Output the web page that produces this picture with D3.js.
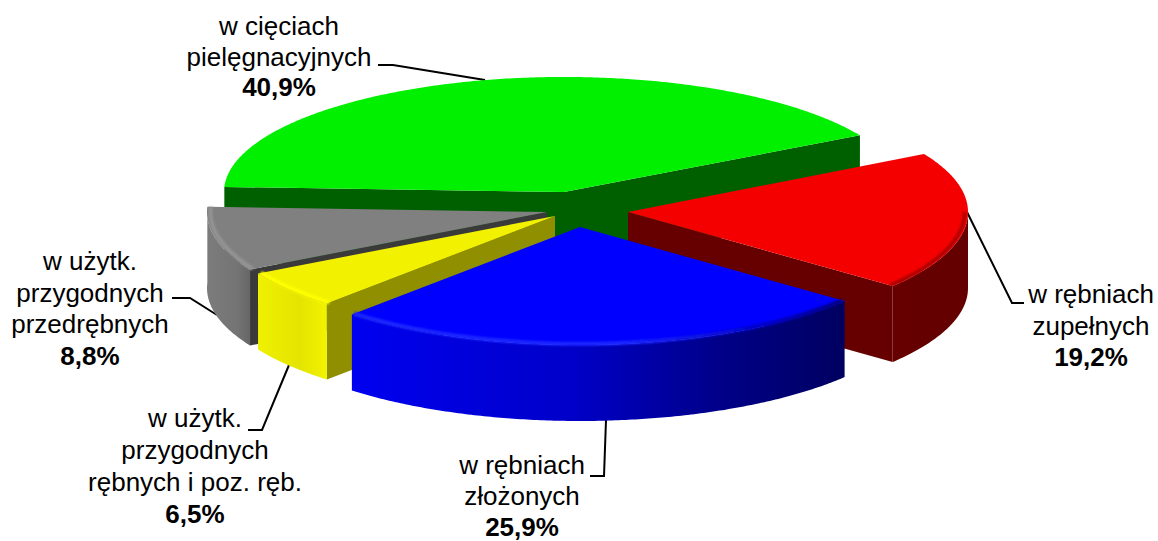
<!DOCTYPE html>
<html lang="pl">
<head>
<meta charset="utf-8">
<script src="https://cdnjs.cloudflare.com/ajax/libs/d3/7.8.5/d3.min.js"></script>
<style>
html,body{margin:0;padding:0;background:#fff;}
svg{display:block;}
text{font-family:"Liberation Sans",Arial,sans-serif;font-size:26px;fill:#000;text-anchor:middle;}
text .v{font-weight:bold;}
</style>
</head>
<body>
<svg id="c" width="1158" height="541"></svg>
<script>
// Data, clockwise from the red slice
const categories = ["w rębniach zupełnych","w rębniach złożonych","w użytk. przygodnych rębnych i poz. ręb.","w użytk. przygodnych przedrębnych","w cięciach pielęgnacyjnych"];
// Sweep shares as drawn in the picture
const sweepShares = [19.0, 25.9, 5.2, 8.8, 41.1];
const valueLabels = ["19,2%","25,9%","6,5%","8,8%","40,9%"];
const labelLines = [
  ["w rębniach","zupełnych"],
  ["w rębniach","złożonych"],
  ["w użytk.","przygodnych","rębnych i poz. ręb."],
  ["w użytk.","przygodnych","przedrębnych"],
  ["w cięciach","pielęgnacyjnych"]
];

// Layout and style (not data)
const W=1158,H=541, depth=76, startDeg=60.5;
const apex=[[628,212],[580,227],[555,216],[547,212],[564,192]];
const squash=[1,1,1,1,0.975];
const topCol=["#f40000","#0000ff","#f2f200","#808080","#00f000"];
const sideCol=["#660000","#000066","#8f8f00","#3a3a3a","#006000"];
const outerStops=[
  [["0","#660000"],["1","#640000"]],
  [["0","#0000f0"],["0.45","#0000c8"],["0.75","#000088"],["1","#000060"]],
  [["0","#f0f000"],["0.6","#e4e400"],["1","#f2f200"]],
  [["0","#7c7c7c"],["0.7","#747474"],["1","#666666"]],
  [["0","#006000"],["1","#006000"]]
];
const rimStops=[
  [["0","#a00000"],["1","#a00000"]],
  [["0","#1c28ff"],["0.55","#1c28ff"],["0.85","#0000c0"],["1","#000080"]],
  [["0","#ffff00"],["1","#ffff00"]],
  [["0","#949494"],["1","#949494"]],
  [["0","#00f000"],["1","#00f000"]]
];
const textX=[1091,522,195,90,279];
const textY=[303,474,427,270,35];
const lineH=[31.5,30.75,32,31.7,30.7];
const leaders=[
  [[967,212],[1012,303],[1024,303]],
  [[606,420],[604,476],[590,476]],
  [[289,365],[262,430],[248,430]],
  [[217,315],[190,298],[172,298]],
  [[378,65],[393,65],[485,80]]
];

const svg=d3.select("#c");
const defs=svg.append("defs");
const xS=d3.scaleLinear().domain([-1,1]).range([-340,340]);
const yS=d3.scaleLinear().domain([-1,1]).range([-118,118]);
const pie=d3.pie().sort(null).startAngle(startDeg*Math.PI/180).endAngle((startDeg+360)*Math.PI/180);
const arcs=pie(sweepShares);
const line=d3.line();
const pt=(i,a,dy=0,r=1)=>[apex[i][0]+xS(r*Math.sin(a)),apex[i][1]+squash[i]*yS(-r*Math.cos(a))+dy];
const sampler=(a0,a1)=>{const n=Math.max(2,Math.ceil(Math.abs(a1-a0)/0.01));return d3.range(n+1).map(k=>a0+(a1-a0)*k/n);};

defs.append("filter").attr("id","blur").attr("x","-5%").attr("y","-10%").attr("width","110%").attr("height","120%")
  .append("feGaussianBlur").attr("stdDeviation",1.1);
function grad(id,stops){
  const g=defs.append("linearGradient").attr("id",id);
  stops.forEach(s=>g.append("stop").attr("offset",s[0]).attr("stop-color",s[1]));
}
arcs.forEach((d,i)=>{grad("outer"+i,outerStops[i]);grad("rim"+i,rimStops[i]);});

// leader lines
svg.append("g").selectAll("path").data(leaders).join("path")
  .attr("d",d=>line(d)).attr("fill","none").attr("stroke","#000").attr("stroke-width",2);

// back-to-front drawing order
const order=[4,0,3,2,1];
const g=svg.append("g");
order.forEach(i=>{
  const d=arcs[i];
  const s=g.append("g").attr("data-cat",categories[i]);
  const wall=a=>{
    const p=pt(i,a),q=pt(i,a,depth),c=apex[i];
    return line([c,p,q,[c[0],c[1]+depth]])+"Z";
  };
  // radial walls facing the viewer
  [d.startAngle,d.endAngle].forEach(a=>{
    const sn=Math.sin(a);
    const facing=(a===d.startAngle)? sn<0 : sn>0;
    if(facing) s.append("path").attr("d",wall(a)).attr("fill",sideCol[i]);
  });
  // outer wall: front half only
  const low=Math.PI/2,high=3*Math.PI/2;
  const a0=Math.max(d.startAngle,low);
  const a1=Math.min(d.endAngle,high+0.044);
  if(a1>a0){
    const as=sampler(a0,a1);
    const pts=as.map(a=>pt(i,a)).concat(as.slice().reverse().map(a=>pt(i,a,depth)));
    s.append("path").attr("d",line(pts)+"Z").attr("fill","url(#outer"+i+")");
  }
  // top face
  const topPts=[apex[i]].concat(sampler(d.startAngle,d.endAngle).map(a=>pt(i,a)));
  s.append("path").attr("d",line(topPts)+"Z").attr("fill",topCol[i]);
  // bevel highlight on the rim
  if(i!==4 && a1>a0){
    const rimPts=sampler(a0,a1).map(a=>pt(i,a,0,0.99));
    s.append("path").attr("d",line(rimPts)).attr("fill","none")
      .attr("stroke","url(#rim"+i+")").attr("stroke-width",i===0?3:4).attr("filter","url(#blur)");
  }
});

// labels
arcs.forEach((d,i)=>{
  const t=svg.append("text").attr("x",textX[i]).attr("y",textY[i]);
  labelLines[i].forEach((l,k)=>{
    t.append("tspan").attr("x",textX[i]).attr("dy",k?lineH[i]:0).text(l);
  });
  t.append("tspan").attr("class","v").attr("x",textX[i]).attr("dy",lineH[i]).text(valueLabels[i]);
});
</script>
</body>
</html>
